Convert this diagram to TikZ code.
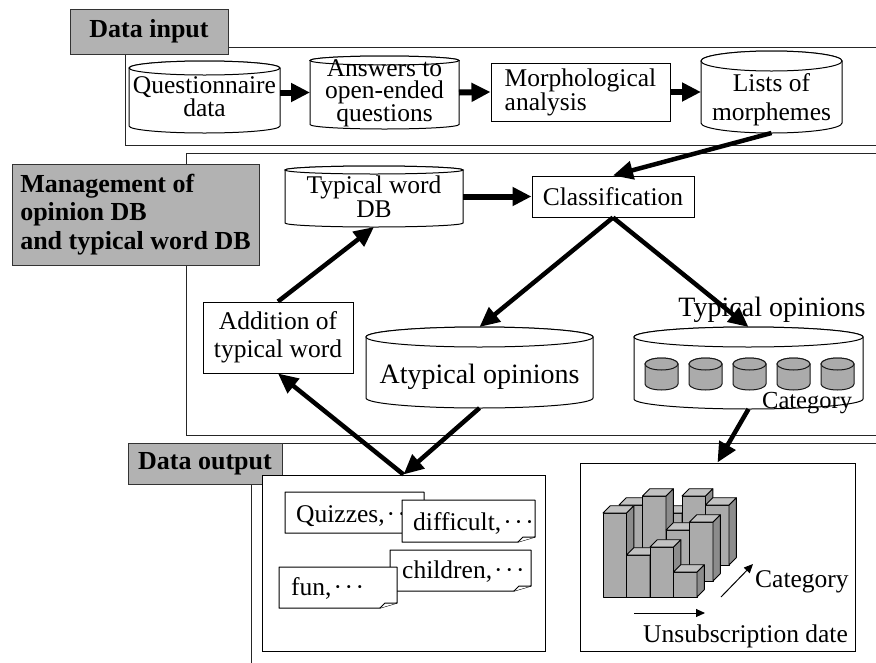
\documentclass[tikz,border=0pt]{standalone}
\usepackage{fontspec}
\setmainfont{Liberation Serif}
\usetikzlibrary{arrows.meta}

\definecolor{tagfill}{gray}{0.70}
\definecolor{drumfill}{gray}{0.67}
\definecolor{frontfill}{gray}{0.67}
\definecolor{sidefill}{gray}{0.55}
\definecolor{topfill}{gray}{0.76}

\tikzset{
  frame/.style={draw=black!85, line width=1pt},
  tag/.style={draw=black!80, fill=tagfill, line width=1pt, inner sep=0pt,
    font=\bfseries\fontsize{26pt}{28.5pt}\selectfont},
  cylbody/.style={draw=black, fill=white, line width=1pt},
  minidrum/.style={draw=black!90, fill=drumfill, line width=1pt},
  procbox/.style={draw=black, fill=white, line width=1pt, inner sep=0pt},
  hull/.style={inner sep=0pt, outer sep=0pt},
  txt/.style={font=\fontsize{25.5pt}{22pt}\selectfont, align=center, inner sep=0pt},
  bigtxt/.style={font=\fontsize{28pt}{30pt}\selectfont, inner sep=0pt},
  flow/.style={line width=6pt, -{Triangle[length=19pt,width=18pt]}},
  slant/.style={line width=4.5pt, -{Triangle[length=20pt,width=18pt]}},
  axis/.style={line width=1pt, -{Triangle[length=9pt,width=8pt]}},
  notecard/.style={draw=black, fill=white, line width=1pt, line join=round},
  barfront/.style={draw=black, fill=frontfill, line width=0.9pt, line join=round},
  barside/.style={draw=black, fill=sidefill, line width=0.9pt, line join=round},
  bartop/.style={draw=black, fill=topfill, line width=0.9pt, line join=round},
}

% cylinder outline: style, centre x, centre y, x radius, half height, y radius
\newcommand\drum[6]{%
  \path[#1] ({#2-#4},{#3-#5+#6}) -- ({#2-#4},{#3+#5-#6})
    arc[start angle=180,end angle=360,x radius=#4pt,y radius=#6pt]
    -- ({#2+#4},{#3-#5+#6})
    arc[start angle=0,end angle=180,x radius=#4pt,y radius=#6pt] -- cycle;
  \path[#1] (#2,{#3-#5+#6}) ellipse[x radius=#4pt,y radius=#6pt];
}

% sheet of paper with a turned-up corner: x1, y1, x2, y2
\newcommand\sheet[4]{%
  \draw[notecard] (#1,#2) -- (#3,#2) -- (#3,{#4-5}) -- ({#3-17},#4) -- (#1,#4) -- cycle;
  \draw[notecard] ({#3-17},#4) -- ({#3-12},{#4-5}) -- (#3,{#4-5});
}

% one bar of the 3-D histogram: column, row, top of front face
\newcommand\barcell[3]{%
  \pgfmathsetmacro\cellx{603+23.5*#1+16*#2}%
  \pgfmathsetmacro\celly{597-16*#2}%
  \draw[barfront] (\cellx,\celly) rectangle ({\cellx+23.5},#3);
  \draw[barside] ({\cellx+23.5},\celly) -- ({\cellx+30.8},{\celly-7.3})
    -- ({\cellx+30.8},{#3-7.3}) -- ({\cellx+23.5},#3) -- cycle;
  \draw[bartop] (\cellx,#3) -- ({\cellx+23.5},#3) -- ({\cellx+30.8},{#3-7.3})
    -- ({\cellx+7.3},{#3-7.3}) -- cycle;
}

\newcommand\mdots{\hspace{2pt}·\hspace{2.5pt}·\hspace{2.5pt}·}

\begin{document}
\begin{tikzpicture}[x=1pt,y=-1pt]
\useasboundingbox (0,0) rectangle (876,662);

% ---------- section frames ----------
\draw[frame] (890,47) -- (125,47) -- (125,145) -- (890,145);
\draw[frame] (890,153) -- (186,153) -- (186,435) -- (890,435);
\draw[frame] (890,443) -- (251,443) -- (251,670);

% ---------- section tags ----------
\node[tag, minimum width=158, minimum height=45] (tagin) at (149,31.5) {Data input};
\node[tag, align=left, minimum width=247, minimum height=101] (tagmg) at (135.5,214.5)
  {Management of\\opinion DB\\and typical word DB};
\node[tag, minimum width=154, minimum height=41] (tagout) at (205,463.5) {Data output};

% ---------- data input ----------
\drum{cylbody}{204.5}{97}{75.5}{36}{7}
\node[hull, minimum width=151, minimum height=72] (q) at (204.5,97) {};
\node[txt, font=\fontsize{25.5pt}{22.5pt}\selectfont] (qtext) at (204.5,96.5) {Questionnaire\\data};

\drum{cylbody}{384.5}{92.5}{74.5}{36.5}{4.5}
\node[hull, minimum width=149, minimum height=73] (a) at (384.5,92.5) {};
\node[txt] (atext) at (384.5,93) {Answers to\\open-ended\\questions};

\node[procbox, txt, font=\fontsize{25.5pt}{22.5pt}\selectfont, align=left,
  minimum width=179, minimum height=58] (m) at (580.5,92) {Morphological\\analysis};

\drum{cylbody}{771.5}{92}{70.5}{41}{10}
\node[hull, minimum width=141, minimum height=82] (l) at (771.5,92) {};
\node[txt, font=\fontsize{25.5pt}{29pt}\selectfont] (ltext) at (771.5,99.5) {Lists of\\morphemes};

\draw[flow] (q.east |- a.west) -- (a.west);
\draw[flow] (a.east) -- (m.west);
\draw[flow] (m.east) -- (l.west);

% ---------- opinion and typical word management ----------
\drum{cylbody}{374}{196.5}{89}{30.5}{4}
\node[hull, minimum width=178, minimum height=61] (tdb) at (374,196.5) {};
\node[txt, font=\fontsize{25.5pt}{24pt}\selectfont] (tdbtext) at (374,196.5) {Typical word\\DB};

\node[procbox, txt, minimum width=162, minimum height=41] (cls) at (613,196.5) {Classification};

\node[procbox, txt, font=\fontsize{25.5pt}{28pt}\selectfont, minimum width=150, minimum height=71]
  (add) at (278,337.5) {Addition of\\typical word};

\drum{cylbody}{479.5}{367.5}{113.5}{40.5}{10}
\node[hull, minimum width=227, minimum height=81] (atyp) at (479.5,367.5) {};
\node[bigtxt, anchor=base] (atyptext) at (479.5,383) {Atypical opinions};

\drum{cylbody}{748.5}{368}{114.5}{41}{10}
\node[hull, minimum width=229, minimum height=82] (typ) at (748.5,368) {};
\foreach \k in {0,...,4}{
  \drum{minidrum}{661.5+44*\k}{374}{16.5}{16}{6}
}
\node[txt, font=\fontsize{24.5pt}{26pt}\selectfont, anchor=base west] (cattext) at (762,408) {Category};
\node[bigtxt, anchor=base] (typtext) at (772,316) {Typical opinions};

\draw[flow] (tdb.east) -- (cls.west);
\draw[slant] (l.south) -- (cls.north);
\draw[slant] (cls.south) -- (atyp.north);
\draw[slant] (cls.south) -- (typ.north);
\draw[slant] (add.north) -- (tdb.south);

% ---------- data output ----------
\node[procbox, minimum width=283, minimum height=176] (outbox) at (403.5,563) {};
\node[procbox, minimum width=275, minimum height=188] (chart) at (717.5,557) {};

\draw[slant] (atyp.south) -- (outbox.north);
\draw[slant] (outbox.north) -- (add.south);
\draw[slant] (typ.south) -- (chart.north);

% word sheets
\sheet{285}{492}{424}{533}
\node[txt, anchor=base west] (w1) at (296,522) {Quizzes,\mdots};
\sheet{402}{500}{535}{542}
\node[txt, anchor=base west] (w2) at (413,530) {difficult,\mdots};
\sheet{390}{550}{531}{591}
\node[txt, anchor=base west] (w3) at (402,578) {children,\mdots};
\sheet{279}{567}{397}{608}
\node[txt, anchor=base west] (w4) at (291,595) {fun,\mdots};

% 3-D histogram, back row first
\barcell{0}{2}{540}
\barcell{1}{2}{513}
\barcell{2}{2}{496}
\barcell{3}{2}{505}
\barcell{0}{1}{505}
\barcell{1}{1}{496}
\barcell{2}{1}{530}
\barcell{3}{1}{522}
\barcell{0}{0}{513}
\barcell{1}{0}{555}
\barcell{2}{0}{547}
\barcell{3}{0}{572}

\coordinate (dateA) at (634,613);
\coordinate (dateB) at (705,613);
\coordinate (catA) at (721,597);
\coordinate (catB) at (753,564);
\draw[axis] (dateA) -- (dateB);
\draw[axis] (catA) -- (catB);
\node[txt, anchor=base west] (catlabel) at (755,587) {Category};
\node[txt, anchor=base west] (datelabel) at (643,642) {Unsubscription date};
\end{tikzpicture}
\end{document}
